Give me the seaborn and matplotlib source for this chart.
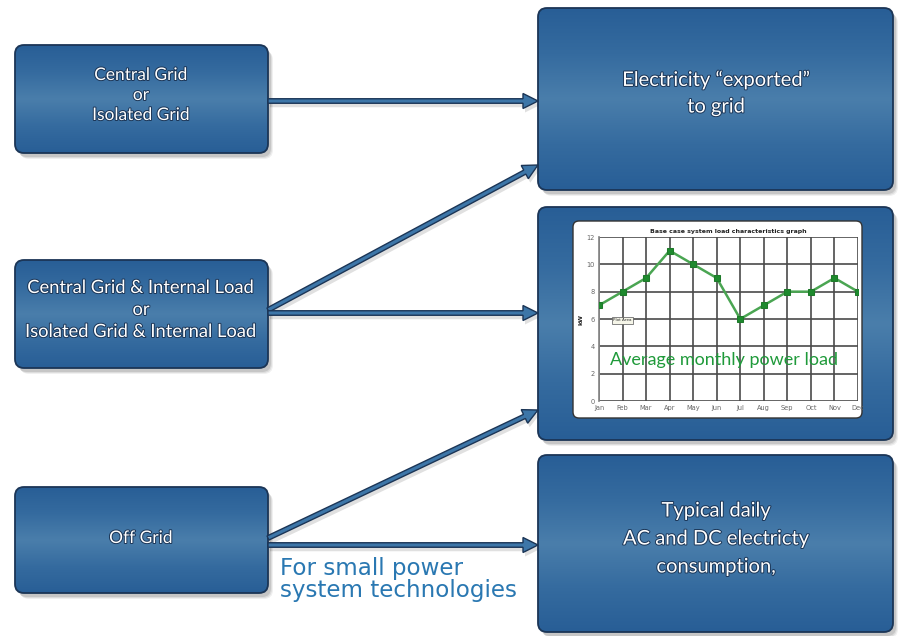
import numpy as np
import matplotlib
matplotlib.use("Agg")
import matplotlib.pyplot as plt
import seaborn as sns
from matplotlib.patches import FancyBboxPatch, FancyArrow
from matplotlib import patheffects as pe
from matplotlib.colors import LinearSegmentedColormap

# ---- data -------------------------------------------------------------
months = ["Jan", "Feb", "Mar", "Apr", "May", "Jun",
          "Jul", "Aug", "Sep", "Oct", "Nov", "Dec"]
load_kw = [7, 8, 9, 11, 10, 9, 6, 7, 8, 8, 9, 8]
y_ticks = [0, 2, 4, 6, 8, 10, 12]

source_labels = [
    ["Central Grid", "or", "Isolated Grid"],
    ["Central Grid & Internal Load", "or", "Isolated Grid & Internal Load"],
    ["Off Grid"],
]
result_labels = [
    ["Electricity \u201cexported\u201d", "to grid"],
    [],
    ["Typical daily", "AC and DC electricty", "consumption,"],
]
chart_title = "Base case system load characteristics graph"
chart_caption = "Average monthly power load"
footnote = ["For small power", "system technologies"]

# ---- canvas -----------------------------------------------------------
sns.set_theme(style="white")
W, H = 898, 636
fig = plt.figure(figsize=(W / 100, H / 100), dpi=100)
fig.patch.set_facecolor("white")
ax = fig.add_axes([0, 0, 1, 1])
ax.set_xlim(0, W)
ax.set_ylim(H, 0)
ax.axis("off")

box_cmap = LinearSegmentedColormap.from_list(
    "boxgrad", ["#285e96", "#356b9f", "#4a7eab", "#356b9f", "#285e96"])
EDGE = "#1b3556"


def draw_box(x0, y0, x1, y1):
    w, h = x1 - x0, y1 - y0
    # soft drop shadow
    for i, a in enumerate([0.10, 0.08, 0.06]):
        sh = FancyBboxPatch((x0 + 3 + i, y0 + 4 + i), w, h,
                            boxstyle="round,pad=0,rounding_size=9",
                            fc="#000000", ec="none", alpha=a, zorder=1)
        ax.add_patch(sh)
    patch = FancyBboxPatch((x0, y0), w, h,
                           boxstyle="round,pad=0,rounding_size=9",
                           fc="none", ec=EDGE, lw=1.3, zorder=3)
    ax.add_patch(patch)
    grad = np.linspace(0, 1, 256).reshape(-1, 1)
    im = ax.imshow(grad, cmap=box_cmap, aspect="auto",
                   extent=(x0, x1, y1, y0), zorder=2)
    im.set_clip_path(patch)


def draw_lines(lines, cx, ys, size):
    for txt, yy in zip(lines, ys):
        ax.text(cx, yy, txt, color="white", fontsize=size, family="Lato",
                ha="center", va="center", zorder=6,
                path_effects=[pe.withStroke(linewidth=1.4,
                                            foreground="#1b3556")])


def arrow(x0, y0, x1, y1):
    dx, dy = x1 - x0, y1 - y0
    a = FancyArrow(x0, y0, dx, dy, width=4.5, head_width=15,
                   head_length=15, length_includes_head=True,
                   fc="#3d76a8", ec=EDGE, lw=1.0, zorder=4)
    ax.add_patch(a)
    sh = FancyArrow(x0 + 2, y0 + 4, dx, dy, width=4.5, head_width=15,
                    head_length=15, length_includes_head=True,
                    fc="#000000", ec="none", alpha=0.12, zorder=1)
    ax.add_patch(sh)


# left column
left_boxes = [(15, 45, 268, 153), (15, 260, 268, 368), (15, 487, 268, 593)]
# right column
right_boxes = [(538, 8, 893, 190), (538, 207, 893, 440), (538, 455, 893, 632)]
for b in left_boxes + right_boxes:
    draw_box(*b)

draw_lines(source_labels[0], 141, [75, 95, 115], 12.5)
draw_lines(source_labels[1], 141, [288, 310, 332], 13.2)
draw_lines(source_labels[2], 141, [538], 12.5)
draw_lines(result_labels[0], 716, [80, 107], 14.5)
draw_lines(result_labels[2], 716, [511, 539, 567], 14.5)

# connectors
arrow(268, 101, 538, 101)
arrow(268, 310, 538, 165)
arrow(268, 313, 538, 313)
arrow(268, 538, 538, 410)
arrow(268, 545, 538, 545)

# footnote under the bottom connector
ax.text(280, 568, footnote[0], color="#2a78b2", fontsize=16.6,
        family="DejaVu Sans", va="center", ha="left", zorder=6)
ax.text(280, 591, footnote[1], color="#2a78b2", fontsize=16.6,
        family="DejaVu Sans", va="center", ha="left", zorder=6)

# white panel holding the load chart
panel = FancyBboxPatch((573, 221), 289, 197,
                       boxstyle="round,pad=0,rounding_size=6",
                       fc="white", ec="#333333", lw=1.0, zorder=5)
ax.add_patch(panel)

# ---- embedded load chart ---------------------------------------------
left, right, top, bottom = 599, 858, 237, 401
cax = fig.add_axes([left / W, 1 - bottom / H, (right - left) / W,
                    (bottom - top) / H])
cax.set_facecolor("white")
xs = np.arange(len(months))
sns.lineplot(x=xs, y=load_kw, ax=cax, color="#4aa552", lw=1.8,
             marker="s", markersize=4, markeredgecolor="#1e7a2a",
             markerfacecolor="#1e8a2e", zorder=5)
cax.set_xlim(0, len(months) - 1)
cax.set_ylim(0, 12)
cax.set_xticks(xs)
cax.set_xticklabels(months)
cax.set_yticks(y_ticks)
cax.tick_params(axis="both", labelsize=4.8, colors="#666666", length=0,
                pad=3)
cax.grid(True, color="#4a4a4a", lw=1.2)
for s in cax.spines.values():
    s.set_visible(False)
cax.spines["left"].set_visible(True)
cax.spines["left"].set_color("#888888")
cax.set_title(chart_title, fontsize=4.5, fontweight="bold", pad=3,
              color="#222222")
cax.set_ylabel("kW", fontsize=4.5, fontweight="bold", labelpad=2)
cax.text(0.6, 5.9, "Plot Area", fontsize=3, color="#333333",
         va="center", ha="left",
         bbox=dict(boxstyle="square,pad=0.3", fc="#f5f5e8", ec="#555555",
                   lw=0.5), zorder=6)

fig.text(724 / W, 1 - 360 / H, chart_caption, color="#1f9a3a",
         fontsize=13, family="Lato", ha="center", va="center")

fig.savefig("out.png", dpi=100, facecolor="white")
